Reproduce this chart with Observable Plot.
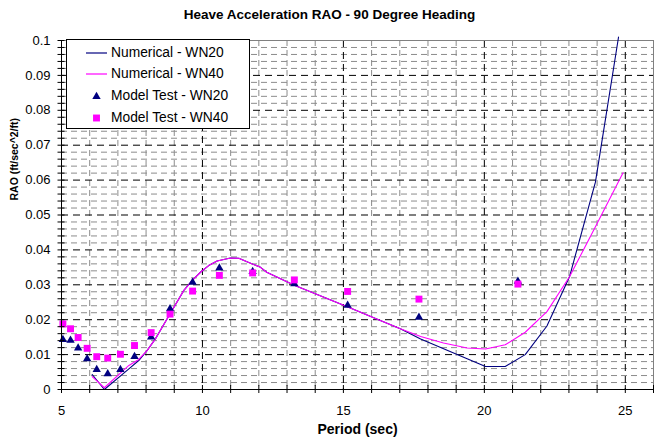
<!DOCTYPE html>
<html><head><meta charset="utf-8">
<script src="https://cdn.jsdelivr.net/npm/d3@7"></script>
<script src="https://cdn.jsdelivr.net/npm/@observablehq/plot@0.6"></script>
<style>
body{margin:0;background:#fff;font-family:Arial,"Liberation Sans",sans-serif;}
#wrap{position:relative;width:659px;height:446px;overflow:hidden;}
#title{height:28px;line-height:30px;text-align:center;font-weight:bold;font-size:13.5px;color:#000;}
#legend{position:absolute;left:66px;top:39px;width:182px;height:88px;border:1px solid #000;background:#fff;font-size:13.8px;color:#000;}
.row{position:absolute;left:0;width:182px;height:20px;line-height:20px;}
.row svg{position:absolute;left:19px;top:0;}
.row span{position:absolute;left:44px;top:0;white-space:nowrap;}
</style></head><body>
<div id="wrap"><div id="title">Heave Acceleration RAO - 90 Degree Heading</div><div id="chart"></div><div id="legend"></div></div>
<script>
// ---- data ----
const xTicks = [5, 10, 15, 20, 25];
const xTickLabels = ["5", "10", "15", "20", "25"];
const yTicks = [0, 0.01, 0.02, 0.03, 0.04, 0.05, 0.06, 0.07, 0.08, 0.09, 0.1];
const yTickLabels = ["0", "0.01", "0.02", "0.03", "0.04", "0.05", "0.06", "0.07", "0.08", "0.09", "0.1"];

const numPeriod20 = [6.09, 6.52, 7.39, 7.74, 8.04, 8.33, 8.80, 9.34, 9.63, 9.93, 10.22, 10.52, 10.99, 11.29, 11.58, 12.06, 12.28, 12.77, 13.26, 15.14, 16.31, 17.02, 17.74, 19.39, 20.04, 20.74, 21.45, 22.22, 23.02, 23.94, 24.76];
const numWN20   = [0.0043, 0.0000, 0.0059, 0.0083, 0.0112, 0.0145, 0.0210, 0.0284, 0.0312, 0.0336, 0.0355, 0.0368, 0.0377, 0.0376, 0.0366, 0.0350, 0.0336, 0.0317, 0.0299, 0.0237, 0.0198, 0.0174, 0.0145, 0.0088, 0.0066, 0.0066, 0.0100, 0.0182, 0.0323, 0.0594, 0.1010];
const numPeriod40 = [6.09, 6.52, 7.39, 7.74, 8.04, 8.33, 8.80, 9.34, 9.63, 9.93, 10.22, 10.52, 10.99, 11.29, 11.58, 12.06, 12.28, 12.77, 13.26, 15.14, 16.31, 17.02, 17.74, 18.55, 19.39, 20.04, 20.74, 21.45, 22.22, 23.02, 23.94, 24.92];
const numWN40   = [0.0037, 0.0005, 0.0069, 0.0086, 0.0112, 0.0145, 0.0210, 0.0284, 0.0312, 0.0336, 0.0355, 0.0368, 0.0377, 0.0376, 0.0366, 0.0350, 0.0336, 0.0317, 0.0299, 0.0237, 0.0198, 0.0174, 0.0152, 0.0133, 0.0119, 0.0116, 0.0128, 0.0164, 0.0223, 0.0323, 0.0466, 0.0621];

const testPeriod = [5.05, 5.32, 5.59, 5.91, 6.25, 6.64, 7.09, 7.59, 8.18, 8.85, 9.65, 10.60, 11.78, 13.26, 15.15, 17.68, 21.19];
const testWN20   = [0.0143, 0.0141, 0.0119, 0.0088, 0.0057, 0.0045, 0.0057, 0.0094, 0.0150, 0.0231, 0.0307, 0.0348, 0.0338, 0.0303, 0.0241, 0.0207, 0.0310];
const testWN40   = [0.0188, 0.0174, 0.0149, 0.0118, 0.0094, 0.0090, 0.0101, 0.0126, 0.0163, 0.0216, 0.0282, 0.0327, 0.0334, 0.0314, 0.0281, 0.0259, 0.0302];

const seriesNames = ["Numerical - WN20", "Numerical - WN40", "Model Test - WN20", "Model Test - WN40"];
const NAVY = "#000080", MAG = "#FF00FF";

// ---- tables ----
const line20 = numPeriod20.map((p, i) => ({p, v: numWN20[i]}));
const line40 = numPeriod40.map((p, i) => ({p, v: numWN40[i]}));
const pts20 = testPeriod.map((p, i) => ({p, v: testWN20[i]}));
const pts40 = testPeriod.map((p, i) => ({p, v: testWN40[i]}));

const xMinor = d3.range(6, 27, 1).filter(v => v % 5 !== 0 && v !== 26);
const yMinor = d3.range(1, 50).map(k => k * 0.002).filter((v, i) => (i + 1) % 5 !== 0);
const xAllTicks = d3.range(5, 27, 1);
const yAllTicks = d3.range(0, 51).map(k => k * 0.002);

const chart = Plot.plot({
  width: 659, height: 418,
  marginTop: 12, marginBottom: 57, marginLeft: 61, marginRight: 6,
  x: {domain: [5, 26]},
  y: {domain: [0, 0.1]},
  style: {fontFamily: "Arial, 'Liberation Sans', sans-serif", fontSize: "13px", background: "#fff", color: "#000", overflow: "visible"},
  marks: [
    Plot.ruleY(yMinor, {stroke: "#8c8c8c", strokeDasharray: "6,4"}),
    Plot.ruleX(xMinor, {stroke: "#8c8c8c", strokeDasharray: "6,4"}),
    Plot.ruleY(yTicks.slice(1, -1), {stroke: "#000", strokeDasharray: "7,5"}),
    Plot.ruleX(xTicks.slice(1), {stroke: "#000", strokeDasharray: "7,5"}),
    Plot.ruleY([0.1], {stroke: "#808080"}),
    Plot.ruleX([26], {stroke: "#808080"}),
    Plot.line(line20, {x: "p", y: "v", stroke: NAVY, strokeWidth: 1.1}),
    Plot.line(line40, {x: "p", y: "v", stroke: MAG, strokeWidth: 1.1}),
    Plot.dot(pts20, {x: "p", y: "v", symbol: "triangle", r: 3.1, fill: NAVY, stroke: "none"}),
    Plot.dot(pts40, {x: "p", y: "v", symbol: "square", r: 3.9, fill: MAG, stroke: "none"}),
    Plot.ruleX([5], {stroke: "#000"}),
    Plot.ruleY([0], {stroke: "#000"}),
    Plot.axisX({ticks: xTicks, tickSize: 0, tickPadding: 16, tickFormat: d => xTickLabels[xTicks.indexOf(d)], label: null, fontSize: 13}),
    Plot.axisX({ticks: xAllTicks, tickSize: 8, dy: -4, tickFormat: () => "", label: null}),
    Plot.axisY({ticks: yTicks, tickSize: 0, tickPadding: 11, tickFormat: d => yTickLabels[yTicks.findIndex(t => Math.abs(t - d) < 1e-9)], label: null, fontSize: 13}),
    Plot.axisY({ticks: yAllTicks, tickSize: 7, dx: 3.5, tickFormat: () => "", label: null}),
    Plot.text(["RAO (ft/sec^2/ft)"], {text: d => d, frameAnchor: "left", rotate: -90, dx: -47, dy: -14.5, fontWeight: "bold", fontSize: 10.5}),
    Plot.text(["Period (sec)"], {text: d => d, frameAnchor: "bottom", dy: 44, fontWeight: "bold", fontSize: 14})
  ]
});
document.getElementById("chart").appendChild(chart);

// ---- legend (HTML) ----
const legend = document.getElementById("legend");
const rowTops = [3, 24, 46, 68];
const icons = [
  `<line x1="0" y1="10" x2="21" y2="10" stroke="${NAVY}" stroke-width="1.2"/>`,
  `<line x1="0" y1="10" x2="21" y2="10" stroke="${MAG}" stroke-width="1.2"/>`,
  `<path d="${d3.symbol(d3.symbolTriangle, Math.PI * 3.1 * 3.1)()}" transform="translate(10.5,10.5)" fill="${NAVY}"/>`,
  `<path d="${d3.symbol(d3.symbolSquare, Math.PI * 3.9 * 3.9)()}" transform="translate(10.5,10)" fill="${MAG}"/>`
];
seriesNames.forEach((name, i) => {
  const row = document.createElement("div");
  row.className = "row";
  row.style.top = rowTops[i] + "px";
  row.innerHTML = `<svg width="21" height="20">${icons[i]}</svg><span>${name}</span>`;
  legend.appendChild(row);
});
</script>
</body></html>
